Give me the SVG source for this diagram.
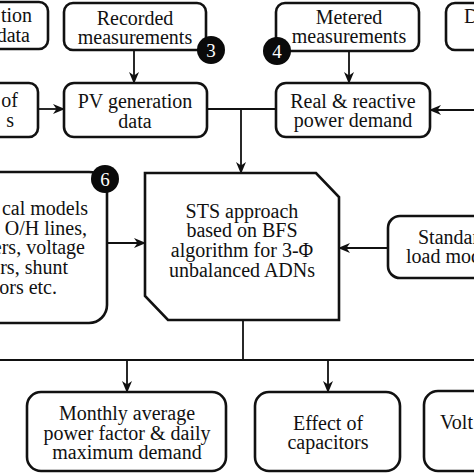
<svg xmlns="http://www.w3.org/2000/svg" width="474" height="474" viewBox="0 0 474 474">
  <defs>
    <marker id="arr" viewBox="0 0 12 10" markerWidth="12" markerHeight="10" refX="11" refY="5" orient="auto" markerUnits="userSpaceOnUse">
      <path d="M0,0 L12,5 L0,10 L3.5,5 Z" fill="#111"/>
    </marker>
    <style>
      .box { fill: #fff; stroke: #111; stroke-width: 2.6; }
      .conn { fill: none; stroke: #111; stroke-width: 1.8; }
      .t { font-family: "Liberation Serif", "Times New Roman", serif; font-size: 20px; fill: #111; }
      .c { text-anchor: middle; }
      .e { text-anchor: end; }
      .badge { fill: #0a0a0a; }
      .bt { font-family: "Liberation Serif", "Times New Roman", serif; font-size: 19px; fill: #fff; text-anchor: middle; }
    </style>
  </defs>
  <rect width="474" height="474" fill="#fff"/>

  <g id="connectors">
    <line class="conn" x1="134" y1="51" x2="134" y2="83" marker-end="url(#arr)"/>
    <line class="conn" x1="349" y1="51" x2="349" y2="83" marker-end="url(#arr)"/>
    <line class="conn" x1="38" y1="109" x2="64" y2="109" marker-end="url(#arr)"/>
    <line class="conn" x1="474" y1="110" x2="430" y2="110" marker-end="url(#arr)"/>
    <line class="conn" x1="207" y1="109" x2="276" y2="109"/>
    <line class="conn" x1="241" y1="109" x2="241" y2="173" marker-end="url(#arr)"/>
    <line class="conn" x1="107" y1="243" x2="145" y2="243" marker-end="url(#arr)"/>
    <line class="conn" x1="388" y1="248" x2="339" y2="248" marker-end="url(#arr)"/>
    <line class="conn" x1="243" y1="320" x2="243" y2="360"/>
    <line class="conn" x1="0" y1="360" x2="474" y2="360"/>
    <line class="conn" x1="127" y1="360" x2="127" y2="392" marker-end="url(#arr)"/>
    <line class="conn" x1="328" y1="360" x2="328" y2="392" marker-end="url(#arr)"/>
  </g>

  <g id="node-substation-data">
    <rect class="box" x="-60" y="2" width="108" height="47" rx="9"/>
    <text class="t e" x="32" y="22">tion</text>
    <text class="t e" x="30" y="42">data</text>
  </g>

  <g id="node-recorded">
    <rect class="box" x="64" y="3" width="142" height="47" rx="9"/>
    <text class="t c" x="135" y="25">Recorded</text>
    <text class="t c" x="135" y="44">measurements</text>
  </g>
  <g id="badge-3">
    <circle class="badge" cx="211" cy="50" r="14"/>
    <text class="bt" x="211" y="57">3</text>
  </g>

  <g id="node-metered">
    <rect class="box" x="276" y="3" width="143" height="48" rx="9"/>
    <text class="t c" x="349" y="24">Metered</text>
    <text class="t c" x="349" y="43">measurements</text>
  </g>
  <g id="badge-4">
    <circle class="badge" cx="277" cy="51" r="14"/>
    <text class="bt" x="277" y="58">4</text>
  </g>

  <g id="node-d">
    <rect class="box" x="446" y="3" width="60" height="47" rx="9"/>
    <text class="t" x="464" y="23">D</text>
  </g>

  <g id="node-left-mid">
    <rect class="box" x="-70" y="83" width="108" height="54" rx="9"/>
    <text class="t e" x="18" y="107">of</text>
    <text class="t e" x="14" y="127">s</text>
  </g>

  <g id="node-pv">
    <rect class="box" x="64" y="83" width="143" height="54" rx="10"/>
    <text class="t c" x="135" y="108">PV generation</text>
    <text class="t c" x="135" y="128">data</text>
  </g>

  <g id="node-real-reactive">
    <rect class="box" x="276" y="83" width="154" height="54" rx="10"/>
    <text class="t c" x="353" y="108">Real &amp; reactive</text>
    <text class="t c" x="353" y="127">power demand</text>
  </g>

  <g id="node-models">
    <rect class="box" x="-80" y="172" width="187" height="151" rx="18"/>
    <text class="t e" x="88" y="215">cal models</text>
    <text class="t e" x="87" y="235">O/H lines,</text>
    <text class="t e" x="85" y="254">ers, voltage</text>
    <text class="t e" x="68" y="274">rs, shunt</text>
    <text class="t e" x="57" y="294">ors etc.</text>
  </g>
  <g id="badge-6">
    <circle class="badge" cx="105" cy="179" r="14"/>
    <text class="bt" x="105" y="186">6</text>
  </g>

  <g id="node-sts">
    <polygon class="box" points="145,173 316,173 339,197 339,320 168,320 145,296"/>
    <text class="t c" x="242" y="218">STS approach</text>
    <text class="t c" x="242" y="237">based on BFS</text>
    <text class="t c" x="242" y="257">algorithm for 3-Φ</text>
    <text class="t c" x="242" y="277">unbalanced ADNs</text>
  </g>

  <g id="node-standard">
    <rect class="box" x="388" y="216" width="120" height="62" rx="12"/>
    <text class="t" x="418" y="244">Standar</text>
    <text class="t" x="406" y="263">load mod</text>
  </g>

  <g id="node-monthly">
    <rect class="box" x="27" y="392" width="199" height="79" rx="14"/>
    <text class="t c" x="127" y="420">Monthly average</text>
    <text class="t c" x="127" y="440">power factor &amp; daily</text>
    <text class="t c" x="127" y="459">maximum demand</text>
  </g>

  <g id="node-effect">
    <rect class="box" x="255" y="392" width="145" height="79" rx="14"/>
    <text class="t c" x="328" y="430">Effect of</text>
    <text class="t c" x="328" y="449">capacitors</text>
  </g>

  <g id="node-volt">
    <rect class="box" x="424" y="391" width="100" height="80" rx="14"/>
    <text class="t" x="440" y="429">Volt</text>
  </g>
</svg>
